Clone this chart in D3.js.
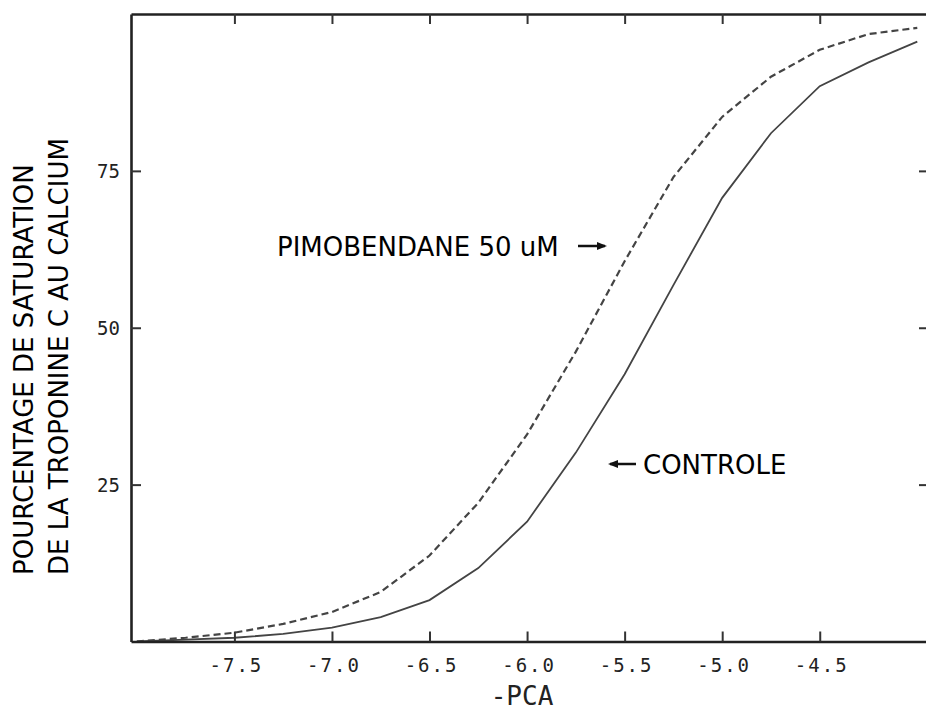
<!DOCTYPE html>
<html>
<head>
<meta charset="utf-8">
<script src="https://cdn.jsdelivr.net/npm/d3@7"></script>
<style>
  body { margin: 0; background: #fff; }
  svg { display: block; }
  .tick-label { font-family: "DejaVu Sans Mono", monospace; font-size: 19px; fill: #222; }
  .note { font-family: "DejaVu Sans", Verdana, sans-serif; font-size: 26px; fill: #000; }
</style>
</head>
<body>
<div id="chart"></div>
<script>
// -pCa values where both curves were read
var pca = [-8.0, -7.75, -7.5, -7.25, -7.0, -6.75, -6.5, -6.25, -6.0, -5.75, -5.5, -5.25, -5.0, -4.75, -4.5, -4.25, -4.0];
// % saturation, control
var controle = [0, 0.3, 0.6, 1.2, 2.2, 3.9, 6.6, 11.7, 19.1, 30.1, 42.6, 56.8, 70.7, 81.0, 88.5, 92.3, 95.6];
// % saturation, pimobendane 50 uM
var pimobendane = [0, 0.6, 1.4, 2.8, 4.7, 7.9, 13.7, 22.1, 33.0, 46.2, 60.6, 74.0, 83.6, 90.0, 94.3, 96.8, 97.8];

var xTicks = [-7.5, -7.0, -6.5, -6.0, -5.5, -5.0, -4.5];
var yTicks = [25, 50, 75];

var width = 926, height = 713;
var plot = { left: 131, right: 929, top: 14, bottom: 641.5 };

var svg = d3.select("#chart").append("svg")
    .attr("width", width)
    .attr("height", height);

var x = d3.scaleLinear().domain([-8.03, -3.94]).range([plot.left, plot.right]);
var y = d3.scaleLinear().domain([0, 100]).range([plot.bottom, plot.top]);

svg.append("clipPath").attr("id", "clip")
    .append("rect")
    .attr("x", plot.left).attr("y", plot.top)
    .attr("width", plot.right - plot.left).attr("height", plot.bottom - plot.top);

// curves
var line = d3.line()
    .x(function(d) { return x(d[0]); })
    .y(function(d) { return y(d[1]); });

svg.append("path")
    .datum(d3.zip(pca, controle))
    .attr("clip-path", "url(#clip)")
    .attr("d", line)
    .attr("fill", "none")
    .attr("stroke", "#444")
    .attr("stroke-width", 1.8);

svg.append("path")
    .datum(d3.zip(pca, pimobendane))
    .attr("clip-path", "url(#clip)")
    .attr("d", line)
    .attr("fill", "none")
    .attr("stroke", "#444")
    .attr("stroke-width", 2.2)
    .attr("stroke-dasharray", "7,4");

// axes, ticks inward on all four sides
var bottomAxis = d3.axisBottom(x).tickValues(xTicks).tickSizeInner(-10).tickSizeOuter(0).tickFormat("");
var topAxis = d3.axisTop(x).tickValues(xTicks).tickSizeInner(-10).tickSizeOuter(0).tickFormat("");
var leftAxis = d3.axisLeft(y).tickValues(yTicks).tickSizeInner(-10).tickSizeOuter(0).tickFormat("");
var rightAxis = d3.axisRight(y).tickValues(yTicks).tickSizeInner(-10).tickSizeOuter(0).tickFormat("");

function styleAxis(g) {
    g.select(".domain").attr("stroke", "#222").attr("stroke-width", 2.6);
    g.selectAll(".tick line").attr("stroke", "#333").attr("stroke-width", 2);
}

svg.append("g").attr("transform", "translate(0," + plot.bottom + ")").call(bottomAxis).call(styleAxis);
svg.append("g").attr("transform", "translate(0," + plot.top + ")").call(topAxis).call(styleAxis);
svg.append("g").attr("transform", "translate(" + plot.left + ",0)").call(leftAxis).call(styleAxis);
svg.append("g").attr("transform", "translate(" + plot.right + ",0)").call(rightAxis).call(styleAxis);

// tick labels
svg.selectAll(".xlab")
    .data(xTicks)
    .enter().append("text")
    .attr("class", "tick-label")
    .attr("x", function(d) { return x(d) + 2; })
    .attr("y", 672)
    .attr("text-anchor", "middle")
    .style("letter-spacing", "2px")
    .text(function(d) { return d.toFixed(1); });

svg.selectAll(".ylab")
    .data(yTicks)
    .enter().append("text")
    .attr("class", "tick-label")
    .attr("x", 120)
    .attr("y", function(d) { return y(d) + 7; })
    .attr("text-anchor", "end")
    .text(function(d) { return d; });

// axis titles
svg.append("text")
    .attr("class", "tick-label")
    .attr("x", 522)
    .attr("y", 705)
    .attr("text-anchor", "middle")
    .style("font-size", "26px")
    .text("-PCA");

svg.append("text")
    .attr("class", "note")
    .attr("transform", "translate(33,575) rotate(-90)")
    .text("POURCENTAGE DE SATURATION");

svg.append("text")
    .attr("class", "note")
    .attr("transform", "translate(68,575) rotate(-90)")
    .text("DE LA TROPONINE C AU CALCIUM");

// curve labels with arrows
svg.append("defs").append("marker")
    .attr("id", "head")
    .attr("viewBox", "0 0 10 10")
    .attr("refX", 8).attr("refY", 5)
    .attr("markerWidth", 4).attr("markerHeight", 4)
    .attr("orient", "auto")
    .append("path")
    .attr("d", "M0,1 L10,5 L0,9 Z")
    .attr("fill", "#111");

svg.append("text")
    .attr("class", "note")
    .attr("x", 277)
    .attr("y", 256)
    .text("PIMOBENDANE 50 uM");

svg.append("line")
    .attr("x1", 578).attr("y1", 246).attr("x2", 605).attr("y2", 246)
    .attr("stroke", "#111").attr("stroke-width", 2.5)
    .attr("marker-end", "url(#head)");

svg.append("line")
    .attr("x1", 636).attr("y1", 464).attr("x2", 610).attr("y2", 464)
    .attr("stroke", "#111").attr("stroke-width", 2.5)
    .attr("marker-end", "url(#head)");

svg.append("text")
    .attr("class", "note")
    .attr("x", 643)
    .attr("y", 474)
    .text("CONTROLE");
</script>
</body>
</html>
